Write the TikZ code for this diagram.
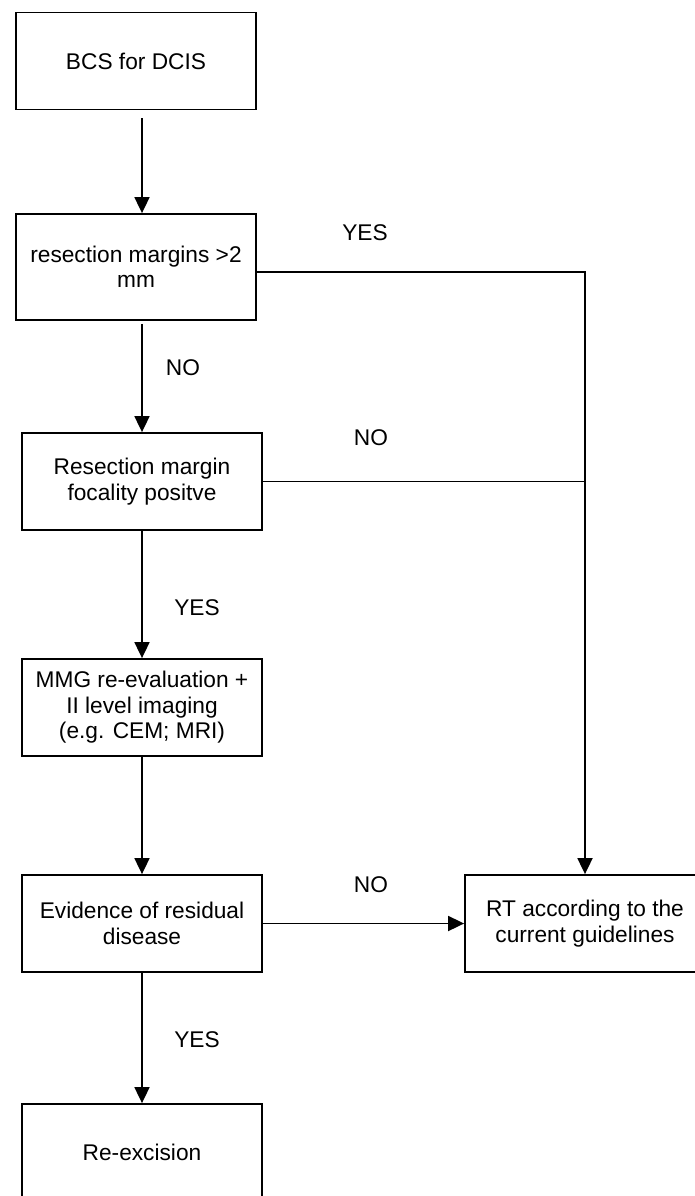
\documentclass[tikz,border=0pt]{standalone}
\usepackage{fontspec}
\setmainfont{Liberation Sans}
\usetikzlibrary{arrows.meta}

\begin{document}
\begin{tikzpicture}[x=1pt,y=-1pt,
        box/.style={draw,line width=1.8pt,minimum width=240pt,minimum height=97pt,align=center,inner sep=0pt},
        lbl/.style={inner sep=0pt},
        arr/.style={line width=1.8pt,-{Triangle[length=16pt,width=15pt]}},
        font=\fontsize{22.7}{25.5}\selectfont]
        \useasboundingbox (0,0) rectangle (694,1196);
        % Boites
        \node[box] (bcs) at (136,61) {BCS for DCIS};
        \node[box,minimum height=106pt] (resec) at (136,267) {resection margins >2\\ mm};
        \node[box] (focal) at (142,481.5) {Resection margin\\ focality positve};
        \node[box] (mmg) at (142,707.5) {MMG re-evaluation +\\ II level imaging\\ (e.g. CEM; MRI)};
        \node[box] (resid) at (142,923.5) {Evidence of residual\\ disease};
        \node[box] (reexc) at (142,1152.5) {Re-excision};
        \node[box] (rt) at (585,923.5) {RT according to the\\ current guidelines};
        % Etiquettes
        \node[lbl] (yesa) at (365,233) {YES};
        \node[lbl] (noa) at (183,368) {NO};
        \node[lbl] (nob) at (371,438) {NO};
        \node[lbl] (yesb) at (197,608) {YES};
        \node[lbl] (noc) at (371,885) {NO};
        \node[lbl] (yesc) at (197,1040) {YES};
        % Fleches
        \draw[arr] ([yshift=-8pt]bcs.south -| focal.north) -- (resec.north -| focal.north);
        \draw[arr] ([yshift=-3pt]resec.south -| focal.north) -- (focal.north);
        \draw[arr] (focal.south) -- (mmg.north);
        \draw[arr] (mmg.south) -- (resid.north);
        \draw[arr] (resid.south) -- (reexc.north);
        \draw[arr] ([yshift=-5pt]resec.east) -- ([yshift=-5pt]resec.east -| rt.north) -- (rt.north);
        \draw[line width=1.8pt] (focal.east) -- (focal.east -| rt.north);
        \draw[arr] (resid.east) -- (rt.west);
\end{tikzpicture}
\end{document}
